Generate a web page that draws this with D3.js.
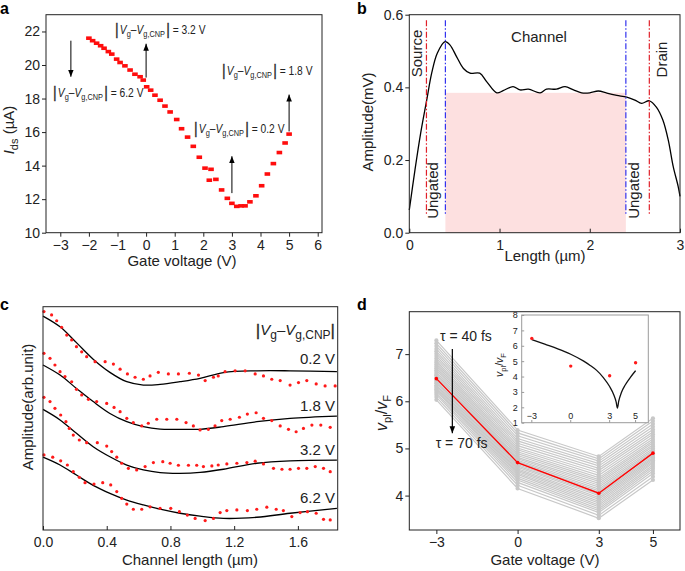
<!DOCTYPE html>
<html><head><meta charset="utf-8">
<script src="https://cdn.jsdelivr.net/npm/d3@7"></script>
<style>
body{margin:0;background:#fff}
svg{display:block}
text{font-family:"Liberation Sans",Arial,Helvetica,sans-serif;fill:#222;white-space:pre}
</style></head><body>
<svg id="fig" width="685" height="571"></svg>
<script>
// ---------- DATA ----------
// Panel a: gate voltage (V), Ids (uA)
const idsVsGate = [[-2.0,21.6],[-1.87,21.45],[-1.73,21.3],[-1.59,21.15],[-1.47,21.0],[-1.32,20.8],[-1.2,20.65],[-1.03,20.35],[-0.91,20.15],[-0.74,19.95],[-0.56,19.7],[-0.39,19.45],[-0.21,19.3],[-0.1,19.1],[0.02,18.7],[0.16,18.5],[0.31,18.2],[0.49,17.9],[0.66,17.55],[0.84,17.2],[1.07,16.75],[1.24,16.2],[1.45,15.7],[1.65,15.15],[1.86,14.5],[2.06,13.85],[2.27,13.78],[2.21,13.13],[2.44,13.18],[2.64,12.55],[2.84,12.05],[3.0,11.75],[3.17,11.57],[3.32,11.6],[3.46,11.6],[3.63,11.84],[3.84,12.2],[4.04,12.8],[4.24,13.5],[4.45,14.12],[4.66,14.78],[4.86,15.35],[5.0,15.88]];
const gateTicksA = [-3,-2,-1,0,1,2,3,4,5,6];
const idsTicksA = [10,12,14,16,18,20,22];
const annotA = [ // [gate V, from Ids, to Ids, label]
  [-2.63, 21.45, 19.3, "6.2 V"], [0, 19.25, 21.27, "3.2 V"], [3, 12.36, 14.56, "0.2 V"], [5, 16.04, 18.24, "1.8 V"]];

// Panel b: length (um), amplitude (mV)
const ampVsLength = [[0,0.0625],[0.063,0.173],[0.126,0.274],[0.193,0.365],[0.248,0.439],[0.31,0.494],[0.396,0.526],[0.45,0.517],[0.525,0.484],[0.6,0.452],[0.673,0.439],[0.78,0.439],[0.857,0.416],[0.97,0.385],[1.04,0.391],[1.15,0.402],[1.227,0.393],[1.32,0.395],[1.45,0.385],[1.52,0.395],[1.63,0.395],[1.726,0.402],[1.82,0.393],[1.91,0.385],[2.0,0.385],[2.095,0.39],[2.19,0.384],[2.3,0.378],[2.41,0.373],[2.5,0.365],[2.575,0.356],[2.66,0.363],[2.74,0.345],[2.81,0.31],[2.87,0.255],[2.925,0.182],[2.98,0.127],[3.0,0.1]];
const channelRegion = [0.4, 2.4, 0.385];
const contactLines = [0.19, 2.66];
const gateEdgeLines = [0.4, 2.4];
const lengthTicksB = [0,1,2,3];
const ampTicksB = [0,0.2,0.4,0.6];

// Panel c: channel length (um), amplitude (arb.) — fits and measured dots
const fitL = [0,0.107,0.21,0.315,0.42,0.526,0.63,0.735,0.86,0.986,1.133,1.342,1.551,1.845];
const fit02 = [0.958,0.91,0.839,0.765,0.706,0.664,0.649,0.652,0.664,0.679,0.705,0.713,0.713,0.709];
const fit18 = [0.739,0.694,0.634,0.575,0.522,0.485,0.463,0.452,0.451,0.451,0.463,0.485,0.5,0.51];
const fit32 = [0.54,0.493,0.433,0.373,0.328,0.291,0.269,0.257,0.254,0.258,0.272,0.299,0.31,0.313];
const fit62 = [0.326,0.291,0.246,0.2,0.164,0.134,0.112,0.093,0.075,0.062,0.052,0.057,0.075,0.097];
const dots02 = [[0.006,0.978],[0.054,0.963],[0.086,0.937],[0.117,0.908],[0.149,0.873],[0.18,0.851],[0.21,0.821],[0.243,0.798],[0.274,0.776],[0.327,0.754],[0.39,0.754],[0.442,0.743],[0.484,0.72],[0.53,0.699],[0.578,0.684],[0.63,0.675],[0.672,0.69],[0.724,0.706],[0.787,0.699],[0.85,0.699],[0.919,0.702],[0.976,0.694],[1.018,0.669],[1.07,0.684],[1.10,0.69],[1.143,0.709],[1.206,0.713],[1.269,0.713],[1.332,0.699],[1.384,0.69],[1.436,0.675],[1.489,0.669],[1.551,0.649],[1.604,0.66],[1.656,0.669],[1.715,0.654],[1.771,0.645],[1.834,0.645]];
const dots18 = [[0.006,0.791],[0.044,0.769],[0.075,0.739],[0.107,0.709],[0.138,0.687],[0.18,0.664],[0.21,0.63],[0.243,0.605],[0.285,0.585],[0.337,0.575],[0.4,0.567],[0.446,0.549],[0.484,0.53],[0.526,0.5],[0.567,0.481],[0.62,0.466],[0.661,0.478],[0.714,0.496],[0.777,0.496],[0.84,0.496],[0.898,0.481],[0.944,0.466],[0.986,0.448],[1.038,0.451],[1.08,0.466],[1.122,0.49],[1.175,0.496],[1.233,0.505],[1.283,0.519],[1.338,0.525],[1.384,0.5],[1.436,0.49],[1.489,0.466],[1.541,0.451],[1.589,0.44],[1.635,0.455],[1.688,0.47],[1.744,0.47],[1.803,0.46]];
const dots32 = [[0.006,0.594],[0.044,0.575],[0.075,0.545],[0.111,0.515],[0.144,0.485],[0.165,0.455],[0.19,0.425],[0.228,0.403],[0.274,0.391],[0.341,0.391],[0.4,0.376],[0.431,0.351],[0.463,0.326],[0.494,0.299],[0.536,0.276],[0.588,0.269],[0.641,0.284],[0.693,0.302],[0.752,0.306],[0.798,0.299],[0.85,0.29],[0.913,0.29],[0.965,0.29],[1.007,0.284],[1.06,0.287],[1.1,0.291],[1.154,0.296],[1.217,0.299],[1.28,0.302],[1.332,0.308],[1.384,0.296],[1.447,0.276],[1.5,0.272],[1.551,0.272],[1.604,0.276],[1.656,0.276],[1.709,0.284],[1.761,0.276],[1.803,0.261]];
const dots62 = [[0.006,0.336],[0.061,0.326],[0.111,0.31],[0.153,0.291],[0.19,0.261],[0.228,0.236],[0.264,0.212],[0.32,0.206],[0.375,0.212],[0.425,0.202],[0.463,0.172],[0.494,0.142],[0.526,0.116],[0.567,0.093],[0.62,0.093],[0.672,0.104],[0.735,0.097],[0.802,0.097],[0.856,0.082],[0.906,0.067],[0.955,0.052],[1.018,0.042],[1.07,0.052],[1.112,0.078],[1.154,0.087],[1.217,0.09],[1.283,0.087],[1.342,0.093],[1.405,0.102],[1.464,0.093],[1.509,0.087],[1.562,0.06],[1.614,0.078],[1.66,0.082],[1.715,0.075],[1.761,0.048],[1.803,0.045]];
const curveLabelsC = ["0.2 V","1.8 V","3.2 V","6.2 V"];
const lengthTicksC = [0,0.4,0.8,1.2,1.6];

// Panel d: gate voltage, v_pl/v_F for tau = 40..70 fs (gray) and best fit (red)
const gateD = [-3, 0, 3, 5];
const ratioAtM3 = [7.29,7.23,7.17,7.11,7.06,7.01,6.96,6.91,6.86,6.82,6.78,6.74,6.70,6.66,6.62,6.58,6.55,6.51,6.48,6.44,6.41,6.38,6.34,6.31,6.28,6.25,6.22,6.18,6.14,6.09,6.03];
const ratioAt0 = [5.39,5.33,5.27,5.21,5.16,5.11,5.06,5.01,4.97,4.93,4.89,4.85,4.81,4.78,4.75,4.72,4.69,4.66,4.63,4.60,4.57,4.54,4.51,4.48,4.45,4.41,4.37,4.33,4.28,4.22,4.15];
const ratioAt3 = [4.83,4.78,4.73,4.68,4.63,4.58,4.53,4.48,4.43,4.38,4.34,4.30,4.26,4.22,4.18,4.14,4.10,4.07,4.03,4.00,3.96,3.92,3.88,3.84,3.80,3.76,3.72,3.68,3.64,3.58,3.52];
const ratioAt5 = [5.64,5.58,5.52,5.46,5.40,5.35,5.30,5.25,5.20,5.16,5.12,5.08,5.04,5.00,4.96,4.93,4.90,4.87,4.84,4.81,4.78,4.75,4.72,4.69,4.65,4.61,4.57,4.52,4.47,4.40,4.33];
const ratioRed = [6.48, 4.70, 4.05, 4.90];
const ratioTicksD = [4,5,6,7];
// inset
const insetMeasured = [6.48, 4.68, 4.05, 4.9];
const insetTheoryGate = [-3,-2,-1,0,1,1.5,2,2.5,3,3.3,3.5,3.6,3.7,3.9,4.2,4.6,5];
const insetTheory = [6.4,6.1,5.8,5.45,5.0,4.72,4.4,3.95,3.35,2.85,2.35,1.95,2.4,2.95,3.45,3.95,4.38];
const insetTicksY = [1,2,3,4,5,6,7,8];

// ---------- HELPERS ----------
const FONT = '"Liberation Sans", Arial, Helvetica, sans-serif';
const INK = '#222';
const svg = d3.select('#fig');

function rich(g, x, y, parts, base, anchor) {
  const t = g.append('text').attr('x', x).attr('y', y).attr('font-size', base)
    .attr('text-anchor', anchor || 'start');
  let cur = 0;
  parts.forEach(p => {
    const s = t.append('tspan').text(p.t);
    const sh = p.sh || 0;
    s.attr('dy', sh - cur); cur = sh;
    if (p.dx) s.attr('dx', p.dx);
    if (p.size) s.attr('font-size', p.size);
    if (p.it) s.attr('font-style', 'italic');
    if (p.bar) s.style('stroke', '#333').style('stroke-width', 0.35);
  });
  return t;
}
function styleAxis(g, fs) {
  g.attr('font-family', FONT).attr('font-size', fs);
  g.select('.domain').remove();
  g.selectAll('.tick line').attr('stroke', INK);
  g.selectAll('.tick text').attr('fill', INK);
}
function frame(g, x0, x1, y0, y1, col) {
  g.append('rect').attr('x', x0).attr('y', y0).attr('width', x1 - x0).attr('height', y1 - y0)
    .attr('fill', 'none').attr('stroke', col || INK).attr('stroke-width', 1);
}
const defs = svg.append('defs');
defs.append('marker').attr('id', 'ah').attr('viewBox', '0 0 10 10').attr('refX', 10).attr('refY', 5)
  .attr('markerWidth', 7).attr('markerHeight', 7).attr('markerUnits', 'userSpaceOnUse').attr('orient', 'auto')
  .append('path').attr('d', 'M0,1 L10,5 L0,9 Z').attr('fill', '#000');

function panelLabel(x, y, s) {
  svg.append('text').attr('x', x).attr('y', y).attr('font-size', 16).attr('font-weight', 'bold').style('fill','#000').text(s);
}
const vgPartsSmall = [
  {t:'|', size:17, sh:1, bar:true}, {t:'V', it:true, dx:1.5}, {t:'g', size:9, sh:3}, {t:'–'}, {t:'V', it:true},
  {t:'g,CNP', size:9, sh:3}, {t:'|', size:17, sh:1, dx:1.5, bar:true}];

// ---------- PANEL A ----------
{
  const g = svg.append('g');
  const x = d3.scaleLinear([-3.5, 6.15], [46, 322]);
  const y = d3.scaleLinear([10, 23], [232.7, 14.7]);
  g.selectAll('rect.pt').data(idsVsGate).join('rect').attr('class','pt')
    .attr('x', d => x(d[0]) - 2.8).attr('y', d => y(d[1]) - 1.8).attr('width', 5.6).attr('height', 3.6)
    .attr('fill', '#ff0d0d');
  frame(g, 46, 322, 14.7, 232.7);
  const ax = g.append('g').attr('transform', 'translate(0,232.7)')
    .call(d3.axisBottom(x).tickValues(gateTicksA).tickSize(4).tickSizeOuter(0).tickPadding(3));
  styleAxis(ax, 14);
  const ay = g.append('g').attr('transform', 'translate(46,0)')
    .call(d3.axisLeft(y).tickValues(idsTicksA).tickSize(4).tickSizeOuter(0).tickPadding(2));
  styleAxis(ay, 14);
  annotA.forEach(a => {
    g.append('line').attr('x1', x(a[0])).attr('x2', x(a[0])).attr('y1', y(a[1])).attr('y2', y(a[2]))
      .attr('stroke', '#000').attr('stroke-width', 1).attr('marker-end', 'url(#ah)');
  });
  const annPos = {"6.2 V":[53,97], "3.2 V":[115,33.5], "0.2 V":[194,133], "1.8 V":[222,74.5]};
  annotA.forEach(a => {
    const p = annPos[a[3]];
    const ag = g.append('g').attr('transform', `translate(${p[0]},${p[1]}) scale(0.82,1)`);
    rich(ag, 0, 0, vgPartsSmall.concat([{t:' = ' + a[3]}]), 12.5);
  });
  const yl = g.append('g').attr('transform', 'translate(14,130) rotate(-90)');
  rich(yl, 0, 0, [{t:'I', it:true}, {t:'ds', size:11, sh:4}, {t:' (µA)'}], 15, 'middle');
  g.append('text').attr('x', 182).attr('y', 266).attr('text-anchor', 'middle').attr('font-size', 15).text('Gate voltage (V)');
  panelLabel(0, 14, 'a');
}

// ---------- PANEL B ----------
{
  const g = svg.append('g');
  const x = d3.scaleLinear([0, 3], [409.3, 680]);
  const y = d3.scaleLinear([0, 0.6], [232.7, 14.7]);
  g.append('rect').attr('x', x(channelRegion[0])).attr('width', x(channelRegion[1]) - x(channelRegion[0]))
    .attr('y', y(channelRegion[2])).attr('height', y(0) - y(channelRegion[2])).attr('fill', '#fde0e0');
  g.append('path').datum(ampVsLength)
    .attr('d', d3.line().x(d => x(d[0])).y(d => y(d[1])).curve(d3.curveCatmullRom.alpha(0.5)))
    .attr('fill', 'none').attr('stroke', '#000').attr('stroke-width', 1.3);
  contactLines.forEach(v => g.append('line').attr('x1', x(v)).attr('x2', x(v)).attr('y1', y(0.585)).attr('y2', y(0.05))
    .attr('stroke', '#e0202a').attr('stroke-width', 1.2).attr('stroke-dasharray', '6,2,1.5,2'));
  gateEdgeLines.forEach(v => g.append('line').attr('x1', x(v)).attr('x2', x(v)).attr('y1', y(0.585)).attr('y2', y(0.05))
    .attr('stroke', '#3333ee').attr('stroke-width', 1.2).attr('stroke-dasharray', '6,2,1.5,2'));
  frame(g, 409.3, 680, 14.7, 232.7);
  const ax = g.append('g').attr('transform', 'translate(0,232.7)')
    .call(d3.axisBottom(x).tickValues(lengthTicksB).tickFormat(d3.format('d')).tickSize(-4).tickSizeOuter(0).tickPadding(7));
  styleAxis(ax, 14);
  const ay = g.append('g').attr('transform', 'translate(409.3,0)')
    .call(d3.axisLeft(y).tickValues(ampTicksB).tickFormat(d3.format('.1f')).tickSize(4).tickSizeOuter(0).tickPadding(2));
  styleAxis(ay, 14);
  const rot = (tx, ty, s) => g.append('text').attr('transform', `translate(${tx},${ty}) rotate(-90)`)
    .attr('text-anchor', 'middle').attr('font-size', 15).text(s);
  rot(421.5, 53.5, 'Source');
  rot(437.5, 190.5, 'Ungated');
  rot(638.5, 190.5, 'Ungated');
  rot(666.5, 59.5, 'Drain');
  g.append('text').attr('x', 539).attr('y', 42).attr('text-anchor', 'middle').attr('font-size', 15).text('Channel');
  rot(373, 122, 'Amplitude(mV)');
  g.append('text').attr('x', 545).attr('y', 261).attr('text-anchor', 'middle').attr('font-size', 15).text('Length (µm)');
  panelLabel(357, 14, 'b');
}

// ---------- PANEL C ----------
{
  const g = svg.append('g');
  const x = d3.scaleLinear([0, 1.85], [43, 337.7]);
  const y = d3.scaleLinear([0, 1], [530, 306.7]);
  const line = d3.line().x((d, i) => x(fitL[i])).y(d => y(d)).curve(d3.curveCatmullRom.alpha(0.5));
  [fit02, fit18, fit32, fit62].forEach(f => g.append('path').datum(f).attr('d', line)
    .attr('fill', 'none').attr('stroke', '#000').attr('stroke-width', 1.3));
  [dots02, dots18, dots32, dots62].forEach(ds => g.append('g').selectAll('circle').data(ds).join('circle')
    .attr('cx', d => x(d[0])).attr('cy', d => y(d[1])).attr('r', 1.6).attr('fill', '#ff1a1a'));
  frame(g, 43, 337.7, 306.7, 530);
  const ax = g.append('g').attr('transform', 'translate(0,530)')
    .call(d3.axisBottom(x).tickValues(lengthTicksC).tickFormat(d3.format('.1f')).tickSize(-4).tickSizeOuter(0).tickPadding(7));
  styleAxis(ax, 14);
  rich(g, 335, 335, [{t:'|', size:17, sh:1, bar:true}, {t:'V', it:true}, {t:'g', size:12, sh:4}, {t:'–'}, {t:'V', it:true},
    {t:'g,CNP', size:12, sh:4}, {t:'|', size:17, sh:1, bar:true}], 15, 'end');
  [363.5, 410.5, 455, 503].forEach((yy, i) => g.append('text').attr('x', 335).attr('y', yy)
    .attr('text-anchor', 'end').attr('font-size', 15).text(curveLabelsC[i]));
  g.append('text').attr('transform', 'translate(33,407) rotate(-90)').attr('text-anchor', 'middle')
    .attr('font-size', 15).text('Amplitude(arb.unit)');
  g.append('text').attr('x', 190).attr('y', 565).attr('text-anchor', 'middle').attr('font-size', 15).text('Channel length (µm)');
  panelLabel(0, 310, 'c');
}

// ---------- PANEL D ----------
{
  const g = svg.append('g');
  const x = d3.scaleLinear([-4, 6], [409.3, 680]);
  const y = d3.scaleLinear([3.27, 7.9], [530, 311.7]);
  const cols = [ratioAtM3, ratioAt0, ratioAt3, ratioAt5];
  const grayLines = ratioAtM3.map((_, k) => cols.map((c, j) => [gateD[j], c[k]]));
  const line = d3.line().x(d => x(d[0])).y(d => y(d[1]));
  const gg = g.append('g');
  grayLines.forEach(L => {
    gg.append('path').datum(L).attr('d', line).attr('fill', 'none').attr('stroke', '#c8c8c8').attr('stroke-width', 1.2);
    gg.append('g').selectAll('circle').data(L).join('circle').attr('cx', d => x(d[0])).attr('cy', d => y(d[1]))
      .attr('r', 2.1).attr('fill', '#c8c8c8');
  });
  const red = gateD.map((v, j) => [v, ratioRed[j]]);
  g.append('path').datum(red).attr('d', line).attr('fill', 'none').attr('stroke', '#ff0000').attr('stroke-width', 1.3);
  g.append('g').selectAll('circle').data(red).join('circle').attr('cx', d => x(d[0])).attr('cy', d => y(d[1]))
    .attr('r', 1.8).attr('fill', '#ff0000');
  g.append('line').attr('x1', x(-2.41)).attr('x2', x(-2.41)).attr('y1', y(7.11)).attr('y2', y(5.32))
    .attr('stroke', '#000').attr('stroke-width', 1.2).attr('marker-end', 'url(#ah)');
  g.append('text').attr('x', 440).attr('y', 341).attr('font-size', 14).text('τ = 40 fs');
  g.append('text').attr('x', 435.7).attr('y', 448).attr('font-size', 14).text('τ = 70 fs');
  frame(g, 409.3, 680, 311.7, 530);
  const ax = g.append('g').attr('transform', 'translate(0,530)')
    .call(d3.axisBottom(x).tickValues(gateD).tickFormat(d3.format('d')).tickSize(4).tickSizeOuter(0).tickPadding(3));
  styleAxis(ax, 14);
  const ay = g.append('g').attr('transform', 'translate(409.3,0)')
    .call(d3.axisLeft(y).tickValues(ratioTicksD).tickFormat(d3.format('d')).tickSize(4).tickSizeOuter(0).tickPadding(2));
  styleAxis(ay, 14);
  const yl = g.append('g').attr('transform', 'translate(387,413) rotate(-90)');
  rich(yl, 0, 0, [{t:'v', it:true}, {t:'pl', size:11, sh:4}, {t:'/'}, {t:'v', it:true}, {t:'F', size:11, sh:4}], 16, 'middle');
  g.append('text').attr('x', 545).attr('y', 565).attr('text-anchor', 'middle').attr('font-size', 15).text('Gate voltage (V)');
  panelLabel(357, 310, 'd');

  // inset
  const ix = d3.scaleLinear([-3.78, 5.98], [521.7, 648.3]);
  const iy = d3.scaleLinear([1, 8], [422.7, 315]);
  const ig = g.append('g');
  ig.append('rect').attr('x', 521.7).attr('y', 315).attr('width', 648.3 - 521.7).attr('height', 422.7 - 315)
    .attr('fill', '#fff').attr('stroke', '#9a9a9a').attr('stroke-width', 1);
  ig.append('path').datum(insetTheoryGate.map((v, i) => [v, insetTheory[i]]))
    .attr('d', d3.line().x(d => ix(d[0])).y(d => iy(d[1])).curve(d3.curveMonotoneX))
    .attr('fill', 'none').attr('stroke', '#111').attr('stroke-width', 1.3);
  ig.append('g').selectAll('circle').data(gateD.map((v, i) => [v, insetMeasured[i]])).join('circle')
    .attr('cx', d => ix(d[0])).attr('cy', d => iy(d[1])).attr('r', 1.7).attr('fill', '#ff1a1a');
  const iay = ig.append('g').attr('transform', 'translate(521.7,0)')
    .call(d3.axisLeft(iy).tickValues(insetTicksY).tickFormat(d3.format('d')).tickSize(-2.5).tickSizeOuter(0).tickPadding(4));
  styleAxis(iay, 9);
  iay.selectAll('.tick line').attr('stroke', '#9a9a9a');
  ig.append('g').selectAll('line').data(gateD).join('line').attr('x1', d => ix(d)).attr('x2', d => ix(d))
    .attr('y1', 422.7).attr('y2', 420).attr('stroke', '#9a9a9a');
  ig.append('g').selectAll('text').data(gateD).join('text').attr('x', d => ix(d)).attr('y', 419)
    .attr('text-anchor', 'middle').attr('font-size', 9).text(d => d3.format('d')(d));
  const iyl = ig.append('g').attr('transform', 'translate(503,365) rotate(-90)');
  rich(iyl, 0, 0, [{t:'v', it:true}, {t:'pl', size:7.5, sh:2.5}, {t:'/'}, {t:'v', it:true}, {t:'F', size:7.5, sh:2.5}], 10.5, 'middle');
}
</script>
</body></html>
